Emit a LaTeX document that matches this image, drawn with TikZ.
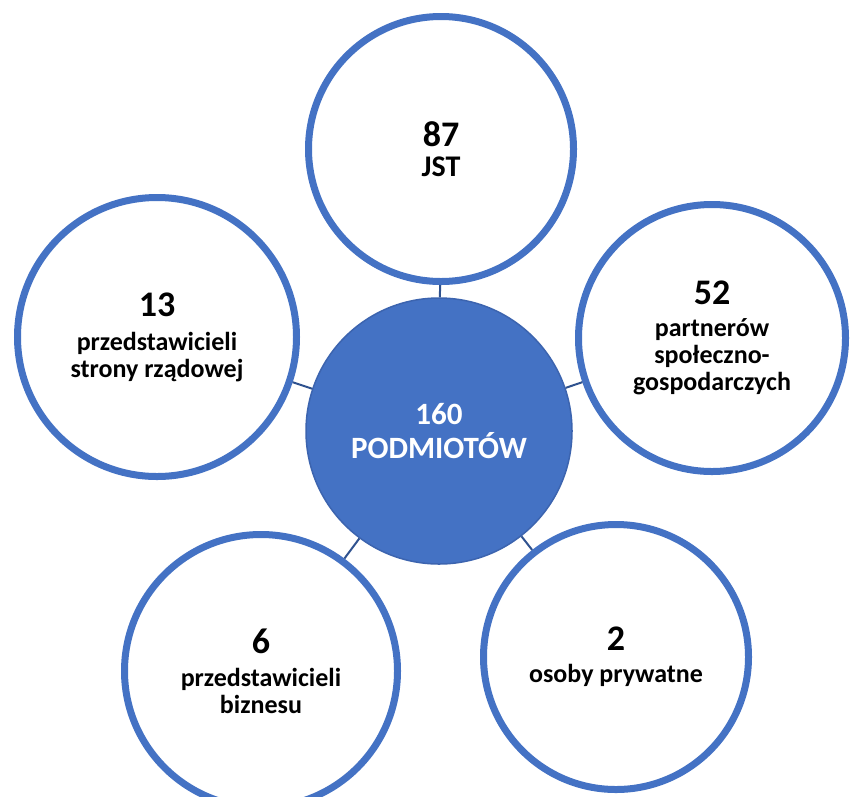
\documentclass[tikz,border=0pt]{standalone}
\usepackage{fontspec}
\setmainfont{Carlito}

\definecolor{accent}{RGB}{68,114,196}
\definecolor{hubline}{RGB}{60,100,175}
\definecolor{linkblue}{RGB}{47,82,143}

\newcommand{\bignum}[1]{{\fontsize{36}{36}\selectfont #1}}

\tikzset{
    sat/.style={circle, draw=accent, line width=7pt, fill=white, align=center,
        inner sep=0pt, font=\bfseries\fontsize{26}{27}\selectfont},
    hub/.style={circle, draw=hubline, line width=1.5pt, fill=accent, text=white,
        minimum size=266pt, align=center, font=\bfseries\fontsize{31}{34}\selectfont},
    link/.style={draw=linkblue, line width=2pt},
}

\begin{document}
\begin{tikzpicture}[x=1pt, y=-1pt]
    \useasboundingbox (0,0) rectangle (850,796);

    \node[hub] (hub) at (439, 431) {160\\PODMIOTÓW};

    \node[sat, minimum size=265pt] (jst) at (441, 149)
        {\bignum{87}\\[3pt]{\fontsize{30}{30}\selectfont JST}};
    \node[sat, minimum size=267pt] (partners) at (712, 338)
        {\bignum{52}\\[5pt]partnerów\\społeczno-\\gospodarczych};
    \node[sat, minimum size=265pt] (private) at (616, 657)
        {\bignum{2}\\[5pt]osoby prywatne};
    \node[sat, minimum size=273pt] (business) at (261, 671)
        {\bignum{6}\\[6pt]przedstawicieli\\biznesu};
    \node[sat, minimum size=279pt] (gov) at (157, 337)
        {\bignum{13}\\[7pt]przedstawicieli\\strony rządowej};

    \draw[link] (hub) -- (jst);
    \draw[link] (hub) -- (partners);
    \draw[link] (hub) -- (private);
    \draw[link] (hub) -- (business);
    \draw[link] (hub) -- (gov);
\end{tikzpicture}
\end{document}
